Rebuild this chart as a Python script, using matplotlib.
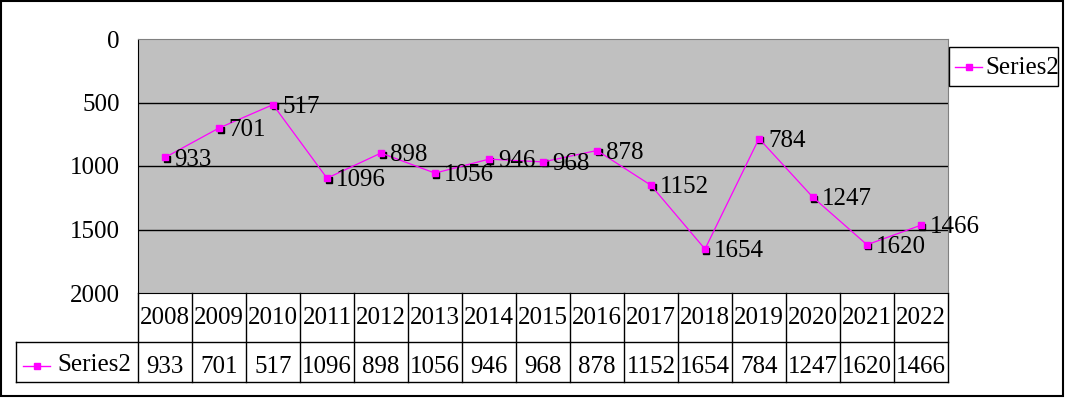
import matplotlib
matplotlib.use("Agg")
import matplotlib.pyplot as plt
from matplotlib.patches import Rectangle
from matplotlib.lines import Line2D
import matplotlib.transforms as mtransforms

plt.rcParams['font.family'] = ['Liberation Serif', 'DejaVu Serif']

years = ['2008', '2009', '2010', '2011', '2012', '2013', '2014', '2015',
         '2016', '2017', '2018', '2019', '2020', '2021', '2022']
values = [933, 701, 517, 1096, 898, 1056, 946, 968, 878, 1152, 1654, 784, 1247, 1620, 1466]
series_name = 'Series2'
yticks = [0, 500, 1000, 1500, 2000]

W, H = 1065, 398
FS = 18
MAG = '#FF00FF'
MS = 4.5

fig = plt.figure(figsize=(W / 100, H / 100), dpi=100)

# plot area in pixels: x 138..948, y 39..293
L, T, R, B = 138, 39, 948, 293
ax = fig.add_axes([L / W, 1 - B / H, (R - L) / W, (B - T) / H])
ax.set_facecolor('#C0C0C0')
x = list(range(len(years)))
ax.set_xlim(-0.5, len(years) - 0.5)
ax.set_ylim(2000, 0)
ax.set_yticks(yticks)
ax.set_yticklabels([str(v) for v in yticks], fontsize=FS)
ax.tick_params(axis='y', length=0, pad=13)
ax.set_xticks([])
for v in yticks[1:-1]:
    ax.axhline(v, color='black', lw=1, zorder=1)
for s in ['top', 'right']:
    ax.spines[s].set_color('#808080')
ax.spines['bottom'].set_color('black')
ax.spines['left'].set_color('black')

# shadowed square markers like Excel
shadow = mtransforms.offset_copy(ax.transData, fig=fig, x=1.5, y=-1.5, units='dots')
ax.plot(x, values, ls='none', marker='s', ms=MS, color='black', transform=shadow, zorder=3)
ax.plot(x, values, color=MAG, lw=0.9, marker='s', ms=MS, zorder=4)

for xi, v in zip(x, values):
    ax.annotate(str(v), (xi, v), xytext=(6.5, -1.5), textcoords='offset points',
                ha='left', va='center', fontsize=FS, annotation_clip=False, zorder=5)

# data table below the axes (x in data units, y in axes fraction)
tr = mtransforms.blended_transform_factory(ax.transData, ax.transAxes)
px = (R - L) / len(years)
y0, y1, y2 = 0, -(342 - B) / (B - T), -(382 - B) / (B - T)
xl = -0.5 - (L - 16) / px
xr = len(years) - 0.5
kw = dict(color='black', lw=1, transform=tr, clip_on=False)
ax.plot([xl, xr], [y1, y1], **kw)
ax.plot([xl, xr], [y2, y2], **kw)
ax.plot([xl, xl], [y1, y2], **kw)
for i in range(len(years) + 1):
    ax.plot([i - 0.5, i - 0.5], [y0, y2], **kw)
for i, (yr, v) in enumerate(zip(years, values)):
    ax.text(i, (y0 + y1) / 2, yr, ha='center', va='center', fontsize=FS,
            transform=tr, clip_on=False)
    ax.text(i, (y1 + y2) / 2 - 0.02, str(v), ha='center', va='center', fontsize=FS,
            transform=tr, clip_on=False)

# pixel coords measured from the top-left corner
pix = mtransforms.Affine2D().scale(1, -1).translate(0, H)

# legend key inside the table row
fig.add_artist(Line2D([23, 50], [366, 366], color=MAG, lw=1, transform=pix))
fig.add_artist(Line2D([36.5], [366], color=MAG, marker='s', ms=MS, ls='none', transform=pix))
fig.text(57 / W, 1 - 365 / H, series_name, fontsize=FS, va='center', ha='left')

# legend box on the right
fig.add_artist(Rectangle((949, 47), 109, 39, fill=False, ec='black', lw=1, transform=pix))
fig.add_artist(Line2D([955, 982], [67, 67], color=MAG, lw=1, transform=pix))
fig.add_artist(Line2D([968.5], [67], color=MAG, marker='s', ms=MS, ls='none', transform=pix))
fig.text(985 / W, 1 - 68 / H, series_name, fontsize=FS, va='center', ha='left')

# outer chart border
fig.add_artist(Rectangle((1, 1), W - 3, H - 3, fill=False, ec='black', lw=1.5, transform=pix))

fig.savefig('out.png', dpi=100)
